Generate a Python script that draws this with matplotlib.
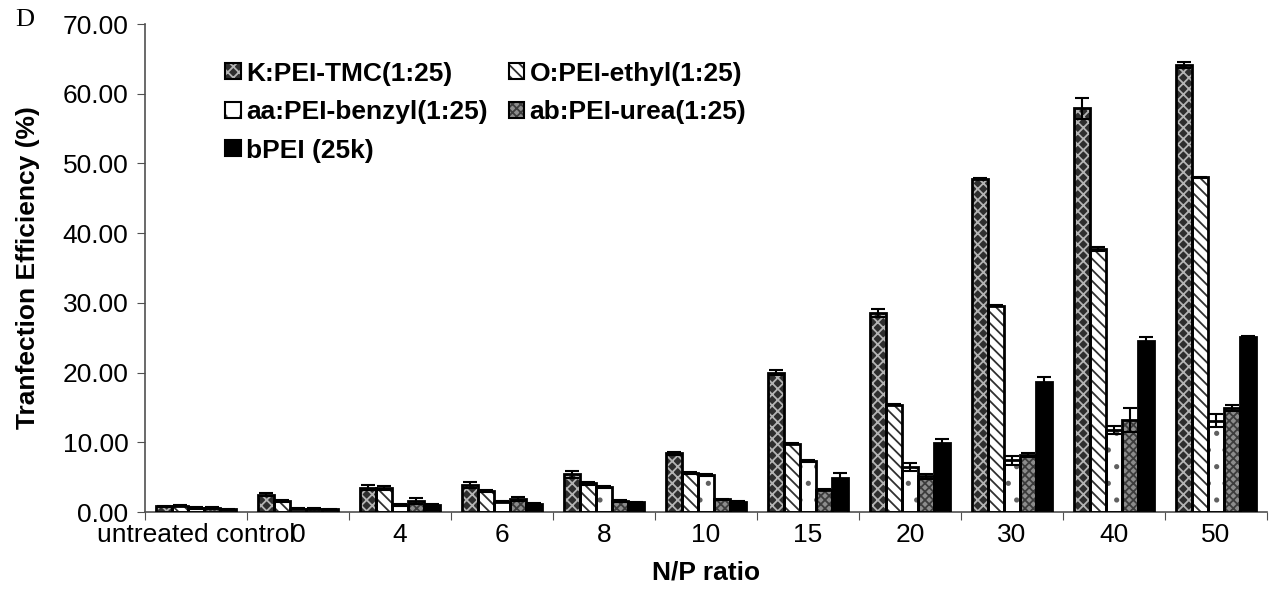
import matplotlib
matplotlib.use('Agg')
import matplotlib.pyplot as plt
import numpy as np
from matplotlib.patches import Patch

plt.rcParams['font.family'] = 'Liberation Sans'
plt.rcParams['hatch.linewidth'] = 1.3

categories = ['untreated control', '0', '4', '6', '8', '10', '15', '20', '30', '40', '50']
series = ['K:PEI-TMC(1:25)', 'O:PEI-ethyl(1:25)', 'aa:PEI-benzyl(1:25)', 'ab:PEI-urea(1:25)', 'bPEI (25k)']

k_tmc = [0.8, 2.5, 3.5, 3.9, 5.4, 8.4, 20.0, 28.5, 47.8, 57.9, 64.1]
o_ethyl = [0.9, 1.6, 3.4, 3.0, 4.1, 5.6, 9.8, 15.4, 29.6, 37.7, 48.0]
aa_benzyl = [0.6, 0.5, 1.0, 1.5, 3.6, 5.3, 7.3, 6.5, 7.4, 11.8, 13.1]
ab_urea = [0.6, 0.5, 1.6, 1.9, 1.6, 1.8, 3.2, 5.1, 8.2, 13.2, 14.9]
bpei = [0.4, 0.4, 1.0, 1.2, 1.4, 1.5, 4.9, 9.9, 18.7, 24.5, 25.1]

k_err = [0.1, 0.2, 0.4, 0.4, 0.5, 0.2, 0.4, 0.6, 0.1, 1.5, 0.4]
o_err = [0.1, 0.1, 0.3, 0.2, 0.2, 0.1, 0.1, 0.1, 0.1, 0.3, 0.1]
aa_err = [0.1, 0.1, 0.1, 0.1, 0.1, 0.1, 0.1, 0.6, 0.6, 0.6, 0.9]
ab_err = [0.1, 0.1, 0.4, 0.3, 0.1, 0.1, 0.1, 0.3, 0.3, 1.7, 0.4]
bpei_err = [0.05, 0.05, 0.1, 0.1, 0.1, 0.1, 0.7, 0.5, 0.7, 0.6, 0.1]

values = [k_tmc, o_ethyl, aa_benzyl, ab_urea, bpei]
errors = [k_err, o_err, aa_err, ab_err, bpei_err]

# face colour, hatch colour, hatch
styles = [('#2e2e2e', '#b4b4b4', 'xxx'),
          ('white', '#303030', '\\\\\\'),
          ('white', '#606060', '.'),
          ('#8c8c8c', '#3c3c3c', 'xxxx'),
          ('black', 'black', None)]

fig = plt.figure(figsize=(12.8, 5.89), dpi=100)
ax = fig.add_axes([145/1280, 1-512/589, 1122/1280, (512-24)/589])

x = np.arange(len(categories)) + 0.5
w = 0.156
handles = []
for i in range(5):
    fc, hc, h = styles[i]
    pos = x + (i - 2) * w
    ax.bar(pos, values[i], w, color=fc, edgecolor=hc, hatch=h, linewidth=0, zorder=2)
    ax.bar(pos, values[i], w, fill=False, edgecolor='black', linewidth=2, zorder=3)
    ax.errorbar(pos, values[i], yerr=errors[i], fmt='none', ecolor='black',
                elinewidth=1.5, capsize=5, capthick=1.5, zorder=4)
    handles.append((Patch(facecolor=fc, edgecolor=hc, hatch=h, linewidth=0),
                    Patch(fill=False, edgecolor='black', linewidth=1.5)))

ax.set_xlim(0, len(categories))
ax.set_ylim(0, 70)
ax.set_yticks(np.arange(0, 71, 10))
ax.set_yticklabels(['%.2f' % v for v in np.arange(0, 71, 10)], fontsize=19)
ax.set_xticks(np.arange(0, len(categories) + 1))
ax.set_xticklabels([])
ax.set_xticks(x, minor=True)
ax.set_xticklabels(categories, minor=True, fontsize=19)
ax.tick_params(axis='x', which='minor', length=0, pad=8)
ax.tick_params(axis='x', which='major', length=6, direction='out', color='#505050')
ax.tick_params(axis='y', length=6, direction='out', color='#505050', pad=6)

for s in ['top', 'right']:
    ax.spines[s].set_visible(False)
for s in ['left', 'bottom']:
    ax.spines[s].set_color('#505050')
    ax.spines[s].set_linewidth(1.2)

ax.set_xlabel('N/P ratio', fontsize=19, fontweight='bold', labelpad=10)
ax.set_ylabel('Tranfection Efficiency (%)', fontsize=19, fontweight='bold', labelpad=16)

# row-wise legend order: K, O / aa, ab / bPEI
order = [0, 2, 4, 1, 3]
ax.legend([handles[j] for j in order], [series[j] for j in order], ncol=2,
          loc='upper left', bbox_to_anchor=(201/1280, 1-38/589),
          bbox_transform=fig.transFigure, frameon=False, handlelength=0.6, handleheight=0.55,
          handletextpad=0.2, columnspacing=0.8, labelspacing=0.55,
          prop={'size': 19, 'weight': 'bold'})

fig.text(15/1280, 1-20/589, 'D', fontsize=19, family='Liberation Serif', va='center')

fig.savefig('out.png', dpi=100)
